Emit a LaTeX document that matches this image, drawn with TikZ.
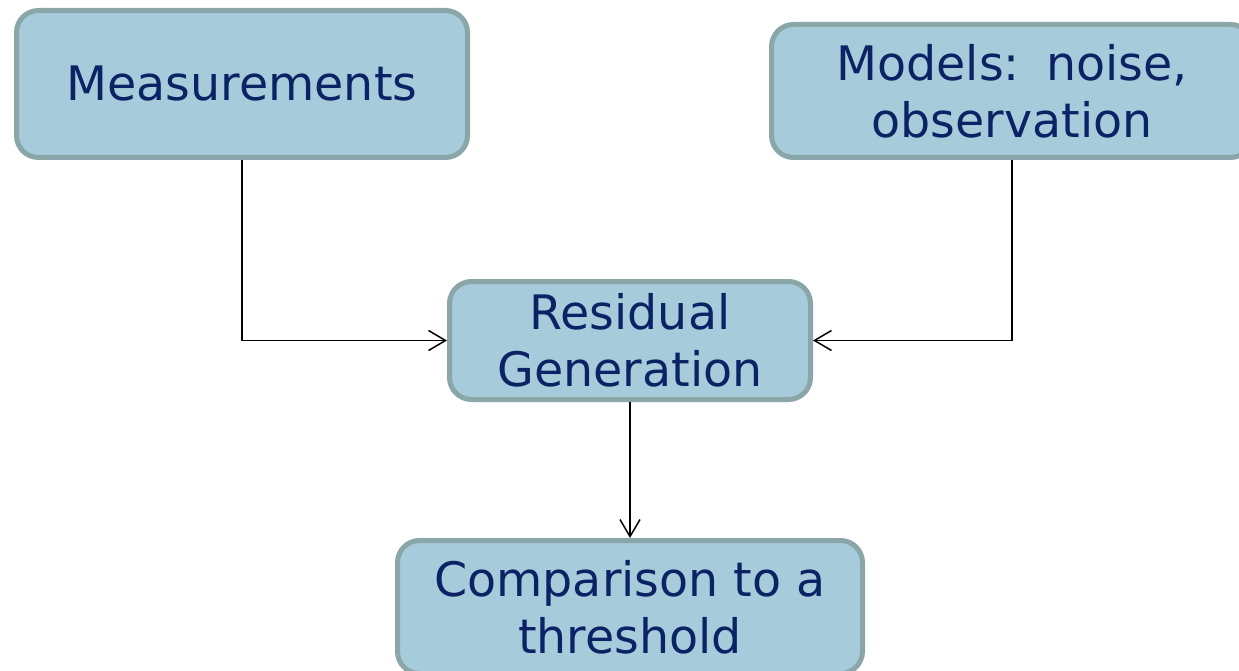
\documentclass[tikz,border=0pt]{standalone}
\usepackage{fontspec}
\setmainfont{DejaVu Sans}
\usetikzlibrary{arrows.meta}
\definecolor{boxfill}{HTML}{A6CBDA}
\definecolor{boxline}{HTML}{8BA6A8}
\definecolor{boxtext}{HTML}{0B2265}
\begin{document}
\begin{tikzpicture}[x=1pt,y=-1pt,
  block/.style={draw=boxline,fill=boxfill,line width=5pt,rounded corners=22pt,
    text=boxtext,align=center,inner sep=0pt,
    font=\fontsize{47.5}{57}\selectfont},
  link/.style={line width=1.5pt,-{Straight Barb[length=17pt,width=20pt,line width=1.5pt]}}]
\useasboundingbox (0,0) rectangle (1239,671);
\clip (0,0) rectangle (1239,671);
\fill[white] (0,0) rectangle (1239,671);
% process boxes
\node[block,minimum width=451pt,minimum height=147pt] (meas) at (242,84) {Measurements};
\node[block,minimum width=481pt,minimum height=133pt] (models) at (1012,91) {Models:\hspace{0.55em}noise,\\observation};
\node[block,minimum width=361pt,minimum height=118pt] (resid) at (630,340.5) {Residual\\Generation};
\node[block,minimum width=465pt,minimum height=133pt] (comp) at (630,607) {Comparison to a\\threshold};
% connectors
\draw[link] (meas.south) |- (resid.west);
\draw[link] (models.south) |- (resid.east);
\draw[link] (resid.south) -- (comp.north);
\end{tikzpicture}
\end{document}
